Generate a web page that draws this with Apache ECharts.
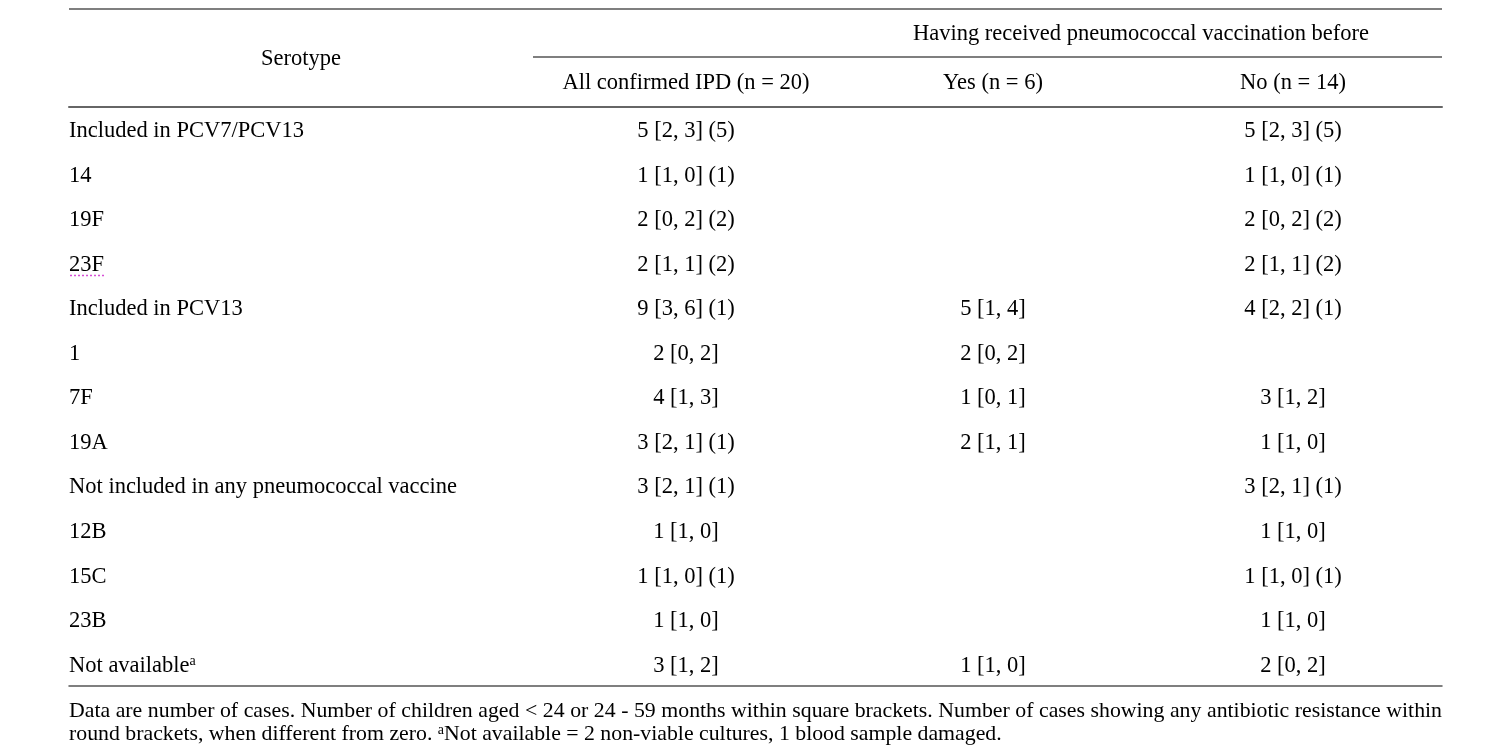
<!DOCTYPE html>
<html>
<head>
    <meta charset="utf-8">
    <title>Serotypes of confirmed IPD</title>
    <script src="https://cdn.jsdelivr.net/npm/echarts@6/dist/echarts.min.js"></script>
    <style>
        html, body { margin: 0; padding: 0; background: #fff; }
        #main { width: 1503px; height: 755px; }
    </style>
</head>
<body>
<div id="main"></div>
<script>
    // table texts
    var stubHeader = 'Serotype';
    var groupHeader = 'Having received pneumococcal vaccination before';
    var columnHeaders = ['All confirmed IPD (n = 20)', 'Yes (n = 6)', 'No (n = 14)'];
    var rowLabels = [
        'Included in PCV7/PCV13', '14', '19F', '23F',
        'Included in PCV13', '1', '7F', '19A',
        'Not included in any pneumococcal vaccine', '12B', '15C', '23B',
        'Not available{sup|a}'
    ];
    var allIPD = [
        '5 [2, 3] (5)', '1 [1, 0] (1)', '2 [0, 2] (2)', '2 [1, 1] (2)',
        '9 [3, 6] (1)', '2 [0, 2]', '4 [1, 3]', '3 [2, 1] (1)',
        '3 [2, 1] (1)', '1 [1, 0]', '1 [1, 0] (1)', '1 [1, 0]',
        '3 [1, 2]'
    ];
    var vaccYes = [
        '', '', '', '',
        '5 [1, 4]', '2 [0, 2]', '1 [0, 1]', '2 [1, 1]',
        '', '', '', '',
        '1 [1, 0]'
    ];
    var vaccNo = [
        '5 [2, 3] (5)', '1 [1, 0] (1)', '2 [0, 2] (2)', '2 [1, 1] (2)',
        '4 [2, 2] (1)', '', '3 [1, 2]', '1 [1, 0]',
        '3 [2, 1] (1)', '1 [1, 0]', '1 [1, 0] (1)', '1 [1, 0]',
        '2 [0, 2]'
    ];
    var footnote = [
        'Data are number of cases. Number of children aged < 24 or 24 - 59 months within square brackets. Number of cases showing any antibiotic resistance within',
        'round brackets, when different from zero. {sup|a}Not available = 2 non-viable cultures, 1 blood sample damaged.'
    ];

    var FONT = '"Liberation Serif", "Times New Roman", serif';
    var SIZE = 22.5;
    var INK = '#000';
    var RULE = '#555';
    var LEFT = 69, RIGHT = 1442;
    var DY = 2; // optical nudge, text sits a little low in the scan
    var colX = [686, 993, 1293];
    var supStyle = { fontSize: 14, fontFamily: FONT, color: INK, verticalAlign: 'top', padding: [0, 0, 0, 0] };

    var myChart = echarts.init(document.getElementById('main'));

    var cellSeries = function (values, x) {
        var data = [];
        for (var i = 0; i < values.length; i++) {
            if (values[i] !== '') {
                data.push({ value: [x, i], text: values[i] });
            }
        }
        return {
            type: 'scatter',
            symbolSize: 0,
            silent: true,
            itemStyle: { color: 'transparent', opacity: 1 },
            label: {
                show: true,
                position: 'inside',
                offset: [0, DY],
                color: INK,
                opacity: 1,
                fontFamily: FONT,
                fontSize: SIZE,
                formatter: function (p) { return p.data.text; }
            },
            data: data
        };
    };

    // measure words to justify the first footnote line
    var ctx = document.createElement('canvas').getContext('2d');
    var noteSize = SIZE;
    ctx.font = noteSize + 'px ' + FONT;
    var natural = ctx.measureText(footnote[0]).width;
    if (natural > (RIGHT - LEFT)) {
        noteSize = Math.floor(noteSize * (RIGHT - LEFT) / natural * 10) / 10;
        ctx.font = noteSize + 'px ' + FONT;
    }
    var words = footnote[0].split(' ');
    var wordsWidth = 0;
    for (var i = 0; i < words.length; i++) {
        wordsWidth += ctx.measureText(words[i]).width;
    }
    var gap = (RIGHT - LEFT - wordsWidth) / (words.length - 1);

    var text = function (str, x, y, align, size) {
        return {
            type: 'text', x: x, y: y + DY, silent: true,
            style: {
                text: str, fill: INK, fontFamily: FONT, fontSize: size || SIZE,
                align: align || 'center', verticalAlign: 'middle',
                rich: { sup: supStyle }
            }
        };
    };
    var rule = function (x1, y, x2, w) {
        return {
            type: 'line', silent: true,
            shape: { x1: x1, y1: y, x2: x2, y2: y },
            style: { stroke: RULE, lineWidth: w }
        };
    };

    var graphics = [
        rule(LEFT, 9, RIGHT, 1.5),
        rule(533, 57, RIGHT, 1.5),
        text(stubHeader, 301, 57),
        text(groupHeader, 1141, 32),
        // spell-check squiggle under 23F
        {
            type: 'line', silent: true,
            shape: { x1: 70, y1: 275.5, x2: 104, y2: 275.5 },
            style: { stroke: '#d64fd6', lineWidth: 1.5, lineDash: [2, 2] }
        }
    ];
    for (var c = 0; c < columnHeaders.length; c++) {
        graphics.push(text(columnHeaders[c], colX[c], 81));
    }
    var wx = LEFT;
    for (var k = 0; k < words.length; k++) {
        graphics.push(text(words[k], wx, 709, 'left', noteSize));
        wx += ctx.measureText(words[k]).width + gap;
    }
    graphics.push(text(footnote[1], LEFT, 732, 'left', noteSize));

    var option = {
        animation: false,
        grid: { left: LEFT, right: 1503 - RIGHT, top: 107, bottom: 755 - 686 },
        xAxis: [{
            type: 'value', min: LEFT, max: RIGHT, position: 'bottom',
            axisLine: { show: true, lineStyle: { color: RULE, width: 1.5 } },
            axisTick: { show: false }, axisLabel: { show: false }, splitLine: { show: false }
        }, {
            type: 'value', min: LEFT, max: RIGHT, position: 'top',
            axisLine: { show: true, lineStyle: { color: '#666', width: 2 } },
            axisTick: { show: false }, axisLabel: { show: false }, splitLine: { show: false }
        }],
        yAxis: {
            type: 'category',
            inverse: true,
            data: rowLabels,
            axisLine: { show: false },
            axisTick: { show: false },
            axisLabel: {
                inside: true,
                margin: 0,
                padding: [DY * 2, 0, 0, 0],
                color: INK,
                fontFamily: FONT,
                fontSize: SIZE,
                rich: { sup: supStyle }
            }
        },
        series: [
            cellSeries(allIPD, colX[0]),
            cellSeries(vaccYes, colX[1]),
            cellSeries(vaccNo, colX[2])
        ],
        graphic: graphics
    };
    myChart.setOption(option);
</script>
</body>
</html>
